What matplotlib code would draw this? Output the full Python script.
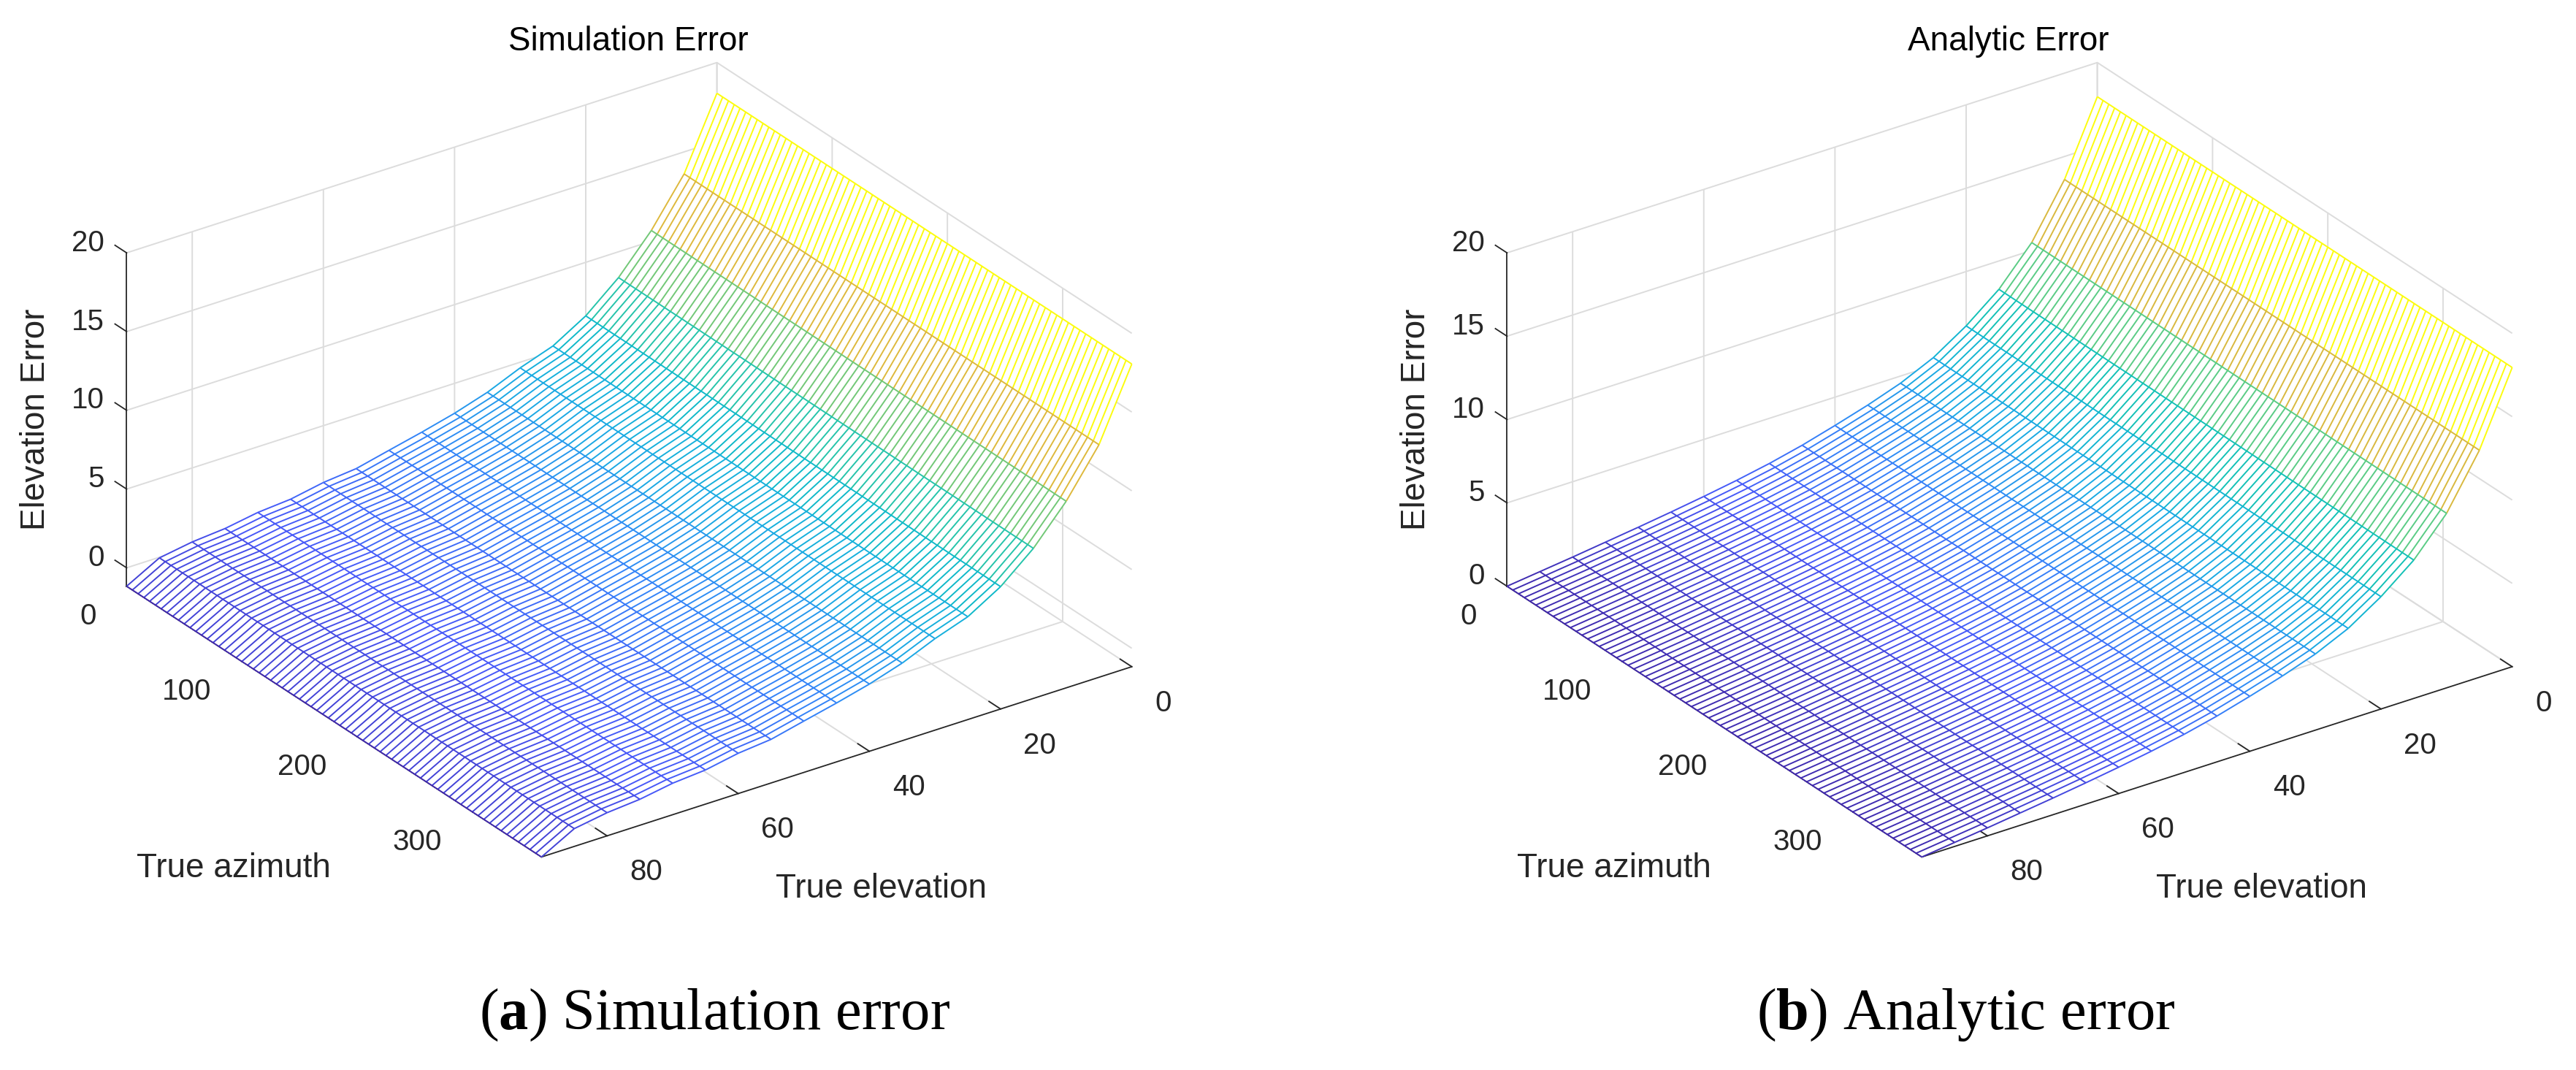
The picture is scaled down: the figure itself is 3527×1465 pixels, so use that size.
#!/usr/bin/env python3
"""Two wire-mesh panels of elevation error over true azimuth / true elevation."""

import numpy as np
import matplotlib
matplotlib.use("Agg")
import matplotlib.pyplot as plt
from matplotlib.colors import LinearSegmentedColormap
from mpl_toolkits.mplot3d.art3d import Line3DCollection

W, H = 3527, 1465
DPI = 100

plt.rcParams["font.family"] = ["Liberation Sans", "DejaVu Sans"]
plt.rcParams["mathtext.fontset"] = "custom"
plt.rcParams["mathtext.rm"] = "Liberation Serif"
plt.rcParams["mathtext.bf"] = "Liberation Serif:bold"

# mesh grid, degrees
elevation = [0, 5, 10, 15, 20, 25, 30, 35, 40, 45, 50, 55, 60, 65, 70, 75, 80, 85, 90]
azimuth = np.arange(0, 365, 5)

# error read at each elevation row (flat across azimuth)
sim_error = [18.05, 13.6, 10.68, 8.36, 6.6, 5.36, 4.64, 3.76, 3.1, 2.57,
             2.09, 1.6, 1.39, 1.0, 0.83, 0.48, 0.3, -0.04, -1.17]
ana_error = [17.95, 13.62, 10.47, 8.3, 6.74, 5.47, 4.57, 3.89, 3.3, 2.75,
             2.29, 1.91, 1.58, 1.28, 1.0, 0.74, 0.48, 0.24, 0.0]

elev_ticks = [0, 20, 40, 60, 80]
az_ticks = [0, 100, 200, 300]
err_ticks = [0, 5, 10, 15, 20]

# old-style parula
PARULA = LinearSegmentedColormap.from_list("parula", [
    (0.00, (0.2422, 0.1504, 0.6603)),
    (0.10, (0.2786, 0.3413, 0.9710)),
    (0.20, (0.1953, 0.5282, 0.9728)),
    (0.32, (0.0900, 0.6800, 0.8800)),
    (0.45, (0.0500, 0.7500, 0.7400)),
    (0.58, (0.3400, 0.8000, 0.5300)),
    (0.70, (0.7000, 0.7500, 0.3200)),
    (0.78, (0.9000, 0.7200, 0.2200)),
    (0.90, (0.9900, 0.8600, 0.1500)),
    (1.00, (0.9900, 0.9900, 0.0500)),
])

AX_W = 1445  # axes side in pixels, gives 808 px per elevation axis at zoom 1
TEXT = "#262626"


def mesh_segments(elev, az, err, zmin, zmax):
    segs, cols = [], []
    norm = lambda v: (v - zmin) / (zmax - zmin)
    for i in range(len(elev)):
        c = PARULA(norm(max(err[i], zmin)))
        # line of constant elevation
        segs.append([(elev[i], a, err[i]) for a in (az[0], az[-1])])
        cols.append(c)
        if i + 1 < len(elev):
            for a in az:
                segs.append([(elev[i], a, err[i]), (elev[i + 1], a, err[i + 1])])
                cols.append(c)
    return segs, cols


def panel(fig, center, err, zmin):
    x0 = (center[0] - AX_W * 0.95 / 1.85) / W
    y0 = (H - center[1] - AX_W * 0.95 / 1.85) / H
    ax = fig.add_axes([x0, y0, AX_W / W, AX_W / H], projection="3d",
                      computed_zorder=False)
    ax.set_proj_type("ortho")
    ax.set_box_aspect((1, 1, 0.52))
    ax.view_init(elev=27.3, azim=54.9)
    ax.patch.set_alpha(0)

    zmax = max(err)
    X, Y = np.meshgrid(elevation, azimuth, indexing="ij")
    Z = np.tile(np.array(err)[:, None], (1, len(azimuth)))
    # white faces hide the grid behind the mesh
    ax.plot_surface(X, Y, Z, color="white", shade=False, linewidth=0,
                    antialiased=False, rstride=1, cstride=1, zorder=1)
    segs, cols = mesh_segments(elevation, azimuth, err, zmin, zmax)
    ax.add_collection3d(Line3DCollection(segs, colors=cols, linewidths=1.4, zorder=2))

    ax.set_xlim(0, 90, view_margin=0)
    ax.set_ylim(0, 360, view_margin=0)
    ax.set_zlim(zmin, 20, view_margin=0)
    ax.set_xticks(elev_ticks)
    ax.set_yticks(az_ticks)
    ax.set_zticks(err_ticks)

    for axis in (ax.xaxis, ax.yaxis, ax.zaxis):
        axis.set_pane_color((1, 1, 1, 0))
        axis.pane.set_edgecolor("none")
        axis.line.set_color(TEXT)
        axis.line.set_linewidth(1.3)
        axis._axinfo["grid"].update(color="#dcdcdc", linewidth=1.4)
        axis._axinfo["tick"].update(inward_factor=0, outward_factor=0.35,
                                    linewidth={True: 1.3, False: 1.0}, color=TEXT)
    # z ticks point along the azimuth axis, as in the original
    ax.zaxis._get_tickdir = lambda position: 1

    ax.tick_params(axis="x", labelsize=29, colors=TEXT, pad=22)
    ax.tick_params(axis="y", labelsize=29, colors=TEXT, pad=20)
    ax.tick_params(axis="z", labelsize=29, colors=TEXT, pad=4)
    plt.setp(ax.get_xticklabels(), ha="left", va="center_baseline")
    plt.setp(ax.get_yticklabels(), ha="right", va="center_baseline")
    plt.setp(ax.get_zticklabels(), ha="right", va="baseline")
    return ax


def labels(fig, dx, title, caption, cap_x, title_x):
    kw = dict(fontsize=33, color=TEXT, ha="center", va="center")
    fig.text((320 + dx) / W, 1 - 1189 / H, "True azimuth", **kw)
    fig.text((1206 + dx) / W, 1 - 1217 / H, "True elevation", **kw)
    fig.text((49 + dx) / W, 1 - 574 / H, "Elevation Error", rotation=90, **kw)
    fig.text(title_x / W, 1 - 57 / H, title, fontsize=33, color="black",
             ha="center", va="center")
    fig.text(cap_x / W, 1 - 1390 / H, caption, fontsize=58, color="black",
             ha="center", va="center", family=["Liberation Serif"])


def main():
    fig = plt.figure(figsize=(W / DPI, H / DPI), dpi=DPI, facecolor="white")
    panel(fig, (861.5, 629.5), sim_error, -1.17)
    panel(fig, (2751.5, 629.5), ana_error, 0.0)
    labels(fig, 0, "Simulation Error", r"($\mathbf{a}$) Simulation error", 978, 860)
    labels(fig, 1890, "Analytic Error", r"($\mathbf{b}$) Analytic error", 2692, 2750)
    fig.savefig("out.png", dpi=DPI)


if __name__ == "__main__":
    main()
